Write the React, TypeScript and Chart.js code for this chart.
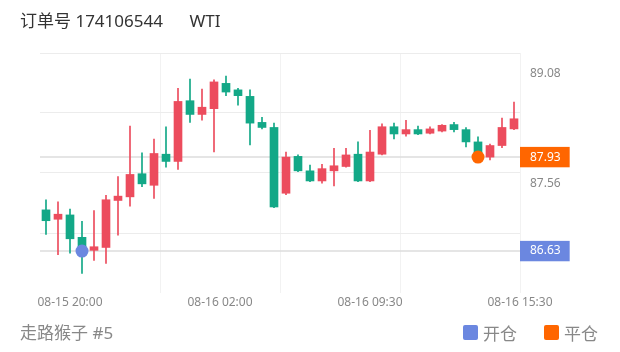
import React, { useEffect, useRef } from "react";
import { Chart, registerables } from "chart.js";

Chart.register(...registerables);

const FONT = "'Noto Sans', 'Noto Sans CJK SC', sans-serif";

const opens = [
  87.2, 87.07, 87.13, 86.82, 86.64, 86.68, 87.33, 87.38, 87.7, 87.54,
  87.97, 87.87, 88.71, 88.52, 88.6, 88.95, 88.86, 88.77, 88.41, 88.34,
  87.43, 87.94, 87.74, 87.6, 87.74, 87.8, 87.97, 87.6, 87.97, 88.35,
  88.25, 88.31, 88.26, 88.29, 88.38, 88.31, 88.14, 87.93, 88.09, 88.32,
];
const highs = [
  87.34, 87.31, 87.21, 87.04, 87.19, 87.4, 87.66, 88.36, 87.99, 88.18,
  88.35, 88.88, 89.01, 88.87, 89.0, 89.05, 88.88, 88.86, 88.48, 88.4,
  88.0, 87.96, 87.82, 87.83, 88.05, 88.05, 88.14, 88.3, 88.39, 88.4,
  88.44, 88.36, 88.35, 88.38, 88.41, 88.34, 88.21, 88.11, 88.47, 88.69,
];
const lows = [
  86.86, 86.58, 86.6, 86.32, 86.5, 86.46, 86.85, 87.25, 87.52, 87.36,
  87.79, 87.76, 88.41, 88.44, 88.0, 88.78, 88.65, 88.1, 88.32, 87.23,
  87.41, 87.73, 87.59, 87.57, 87.53, 87.79, 87.59, 87.59, 87.96, 88.18,
  88.22, 88.24, 88.25, 88.28, 88.28, 88.07, 87.89, 87.89, 88.06, 88.31,
];
const closes = [
  87.05, 87.14, 86.8, 86.68, 86.69, 87.34, 87.39, 87.69, 87.56, 87.98,
  87.87, 88.7, 88.52, 88.62, 88.97, 88.83, 88.78, 88.4, 88.34, 87.24,
  87.93, 87.74, 87.6, 87.77, 87.81, 87.96, 87.6, 88.0, 88.35, 88.25,
  88.31, 88.25, 88.32, 88.37, 88.31, 88.14, 87.93, 88.09, 88.34, 88.46,
];

const xTickLabels = ["08-15 20:00", "08-16 02:00", "08-16 09:30", "08-16 15:30"];
const xTickPositions = [2, 14.5, 27, 39.5];
const yTickValues = [89.08, 87.56];

const openIndex = 3;
const openPrice = 86.63;
const closeIndex = 36;
const closePrice = 87.93;

const yMin = 86.05;
const yMax = 89.37;
const xMin = -0.5;
const xMax = 39.5;

const UP = "#ec4c5d";
const DOWN = "#13a887";
const OPEN_COLOR = "#6b87e0";
const CLOSE_COLOR = "#ff6600";

export default function App() {
  const ref = useRef<HTMLCanvasElement>(null);

  useEffect(() => {
    const canvas = ref.current;
    if (!canvas) return;
    Chart.defaults.font.family = FONT;
    const candleColors = opens.map((o, i) => (closes[i] >= o ? UP : DOWN));
    const isMarked = (v: number) => v === openPrice || v === closePrice;

    const chart = new Chart(canvas, {
      type: "bar",
      data: {
        datasets: [
          {
            type: "line",
            label: "ref-close",
            data: [
              { x: xMin, y: closePrice },
              { x: xMax, y: closePrice },
            ],
            borderColor: "#dcdcdc",
            borderWidth: 1.5,
            pointRadius: 0,
            xAxisID: "x",
            yAxisID: "y",
            order: 10,
          } as any,
          {
            type: "line",
            label: "ref-open",
            data: [
              { x: xMin, y: openPrice },
              { x: xMax, y: openPrice },
            ],
            borderColor: "#dcdcdc",
            borderWidth: 1.5,
            pointRadius: 0,
            xAxisID: "x",
            yAxisID: "y",
            order: 10,
          } as any,
          {
            type: "bar",
            label: "wick",
            data: highs.map((h, i) => ({ x: i, y: [lows[i], h] })),
            backgroundColor: candleColors,
            barThickness: 1,
            grouped: false,
            borderWidth: 0,
            xAxisID: "x",
            yAxisID: "y",
            order: 5,
          } as any,
          {
            type: "bar",
            label: "body",
            data: opens.map((o, i) => ({ x: i, y: [o, closes[i]] })),
            backgroundColor: candleColors,
            barThickness: 8,
            grouped: false,
            borderWidth: 0,
            minBarLength: 2,
            xAxisID: "x",
            yAxisID: "y",
            order: 4,
          } as any,
          {
            type: "scatter",
            label: "开仓",
            data: [{ x: openIndex, y: openPrice }],
            pointRadius: 6.5,
            pointBackgroundColor: OPEN_COLOR,
            pointBorderWidth: 0,
            xAxisID: "x",
            yAxisID: "y",
            order: 1,
          } as any,
          {
            type: "scatter",
            label: "平仓",
            data: [{ x: closeIndex, y: closePrice }],
            pointRadius: 6.5,
            pointBackgroundColor: CLOSE_COLOR,
            pointBorderWidth: 0,
            xAxisID: "x",
            yAxisID: "y",
            order: 1,
          } as any,
        ],
      },
      options: {
        animation: false,
        responsive: false,
        maintainAspectRatio: false,
        layout: { padding: { left: 40, top: 53, right: 0, bottom: 0 } },
        plugins: { legend: { display: false }, tooltip: { enabled: false } },
        scales: {
          x: {
            type: "linear",
            position: "bottom",
            min: xMin,
            max: xMax,
            offset: false,
            grid: { display: false, drawTicks: false, offset: false },
            border: { display: false },
            afterBuildTicks: (s: any) => {
              s.ticks = xTickPositions.map((v) => ({ value: v }));
            },
            afterFit: (s: any) => {
              s.height = 59;
            },
            ticks: {
              autoSkip: false,
              maxRotation: 0,
              minRotation: 0,
              padding: 2,
              color: "#888",
              font: { size: 12, family: FONT },
              callback: (_v: any, i: number) => xTickLabels[i],
            },
          },
          xg: {
            type: "linear",
            position: "bottom",
            min: xMin,
            max: xMax,
            offset: false,
            ticks: { display: false, count: 5 },
            grid: {
              drawTicks: false,
              offset: false,
              color: (ctx: any) => (ctx.index === 0 ? "rgba(0,0,0,0)" : "#f2f2f2"),
            },
            border: { display: false },
            afterFit: (s: any) => {
              s.height = 0;
            },
          },
          y: {
            type: "linear",
            position: "right",
            min: yMin,
            max: yMax,
            beginAtZero: false,
            grid: { display: false, drawTicks: false },
            border: { display: false },
            afterBuildTicks: (s: any) => {
              s.ticks = [...yTickValues, closePrice, openPrice].map((v) => ({ value: v }));
            },
            afterFit: (s: any) => {
              s.width = 100;
            },
            ticks: {
              autoSkip: false,
              padding: 10,
              font: { size: 12, family: FONT },
              color: (ctx: any) => (isMarked(ctx.tick?.value) ? "#ffffff" : "#888"),
              showLabelBackdrop: (ctx: any) => isMarked(ctx.tick?.value),
              backdropColor: (ctx: any) =>
                ctx.tick?.value === closePrice
                  ? CLOSE_COLOR
                  : ctx.tick?.value === openPrice
                  ? OPEN_COLOR
                  : "rgba(0,0,0,0)",
              backdropPadding: { top: 3, bottom: 3, left: 10, right: 9 },
              callback: (v: any) => Number(v).toFixed(2),
            },
          },
          yg: {
            type: "linear",
            position: "left",
            min: yMin,
            max: yMax,
            beginAtZero: false,
            ticks: { display: false, count: 5 },
            grid: {
              drawTicks: false,
              color: (ctx: any) => (ctx.index === 0 ? "rgba(0,0,0,0)" : "#ececec"),
            },
            border: { display: false },
            afterFit: (s: any) => {
              s.width = 0;
            },
          },
        },
      } as any,
    });
    return () => chart.destroy();
  }, []);

  const legendItem = (left: number, color: string, text: string) => (
    <div
      style={{
        position: "absolute",
        left,
        top: 322,
        height: 20,
        display: "flex",
        alignItems: "center",
        fontSize: 17,
        color: "#888",
      }}
    >
      <span
        style={{
          display: "inline-block",
          width: 15,
          height: 15,
          borderRadius: 2,
          background: color,
          marginRight: 5,
        }}
      />
      <span>{text}</span>
    </div>
  );

  return (
    <div
      style={{
        position: "fixed",
        left: 0,
        top: 0,
        width: 620,
        height: 352,
        background: "#fff",
        fontFamily: FONT,
        overflow: "hidden",
      }}
    >
      <canvas
        ref={ref}
        width={620}
        height={352}
        style={{ position: "absolute", left: 0, top: 0, width: 620, height: 352 }}
      />
      <div
        style={{
          position: "absolute",
          left: 20,
          top: 11,
          fontSize: 17,
          lineHeight: "20px",
          color: "#333",
          whiteSpace: "pre",
        }}
      >
        订单号 174106544      WTI
      </div>
      <div
        style={{
          position: "absolute",
          left: 20,
          top: 323,
          fontSize: 17,
          lineHeight: "20px",
          color: "#888",
        }}
      >
        走路猴子 #5
      </div>
      {legendItem(463, OPEN_COLOR, "开仓")}
      {legendItem(544, CLOSE_COLOR, "平仓")}
    </div>
  );
}
